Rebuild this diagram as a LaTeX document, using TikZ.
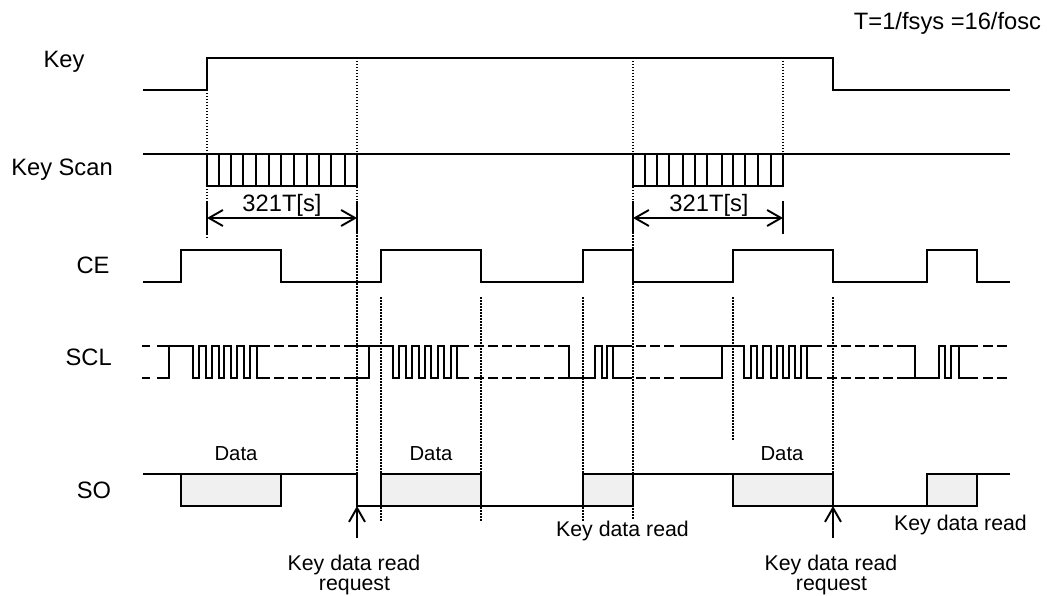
\documentclass[tikz,border=0pt]{standalone}
\usepackage{fontspec}
\setmainfont{Liberation Sans}
\usetikzlibrary{arrows.meta}
\tikzset{
  wave/.style={line width=1.9pt,line join=miter},
  dots/.style={line width=1.5pt,dash pattern=on 1.5pt off 1.5pt},
  thin wave/.style={line width=1.7pt},
  lab/.style={inner sep=0pt,anchor=base,font=\fontsize{23.7}{26}\selectfont},
  smalllab/.style={inner sep=0pt,anchor=base,font=\fontsize{21.3}{26}\selectfont},
  datalab/.style={inner sep=0pt,anchor=base,font=\fontsize{20.3}{26}\selectfont},
  boxg/.style={wave,fill=black!6},
  open/.style={-{Straight Barb[length=14pt,width=16pt]}},
  dim/.style={{Straight Barb[length=14pt,width=16pt]}-{Straight Barb[length=14pt,width=16pt]}},
}
\begin{document}
\begin{tikzpicture}[x=1pt,y=-1pt]
\useasboundingbox (0,0) rectangle (1047,596);
% dotted
\foreach \x/\a/\b in {207/90/154,207/186/238,357/58/474,633/58/520,783/58/154,381/297/521,481/297/521,583/297/521,733/297/440,833/297/474}
  \draw[dots] (\x,\a) -- (\x,\b);
% Key
\draw[wave] (143,90) -| (207,58) -| (833,90) -- (1010,90);
% Key scan
\draw[wave] (143,154) -- (1010,154);
\draw[wave] (207,154) rectangle (357,186);
\draw[wave] (633,154) rectangle (783,186);
\foreach \x in {219,231,243,256,269,281,294,307,319,331,345,645,657,669,683,695,707,722,733,745,758,771}
  \draw[thin wave] (\x,154) -- (\x,186);
% dimension
\coordinate (d1) at (207,218); \coordinate (d2) at (357,218);
\coordinate (d3) at (633,218); \coordinate (d4) at (783,218);
\draw[wave,dim] (d1) -- (d2);
\draw[wave,dim] (d3) -- (d4);
\foreach \x in {207,357,633,783} \draw[wave] (\x,201) -- (\x,234);
% CE
\draw[wave] (143,282) -- (181,282) -- (181,250) -- (281,250) -- (281,282) -- (381,282) -- (381,250) -- (481,250) -- (481,282) -- (583,282) -- (583,250) -- (633,250) -- (633,282) -- (733,282) -- (733,250) -- (833,250) -- (833,282) -- (927,282) -- (927,250) -- (977,250) -- (977,282) -- (1010,282);
% SCL
\def\hi{346}\def\lo{378}
% burst 1
\draw[wave] (157,\lo) -| (169,\hi) (157,\hi) -- (193,\hi) -- (193,\lo) -- (199,\lo) -- (199,\hi) -- (206,\hi) -- (206,\lo) -- (212,\lo) -- (212,\hi) -- (219,\hi) -- (219,\lo) -- (224,\lo) -- (224,\hi) -- (231,\hi) -- (231,\lo) -- (237,\lo) -- (237,\hi) -- (244,\hi) -- (244,\lo) -- (250,\lo) -- (250,\hi) -- (270,\hi);
\draw[wave] (257,\hi) -- (257,\lo) -- (270,\lo);
% burst 2
\draw[wave] (344,\lo) -| (369,\hi) (344,\hi) -- (393,\hi) -- (393,\lo) -- (399,\lo) -- (399,\hi) -- (406,\hi) -- (406,\lo) -- (412,\lo) -- (412,\hi) -- (419,\hi) -- (419,\lo) -- (425,\lo) -- (425,\hi) -- (431,\hi) -- (431,\lo) -- (438,\lo) -- (438,\hi) -- (444,\hi) -- (444,\lo) -- (451,\lo) -- (451,\hi) -- (469,\hi);
\draw[wave] (457,\hi) -- (457,\lo) -- (469,\lo);
% burst 3 short
\draw[wave] (558,\hi) -| (569,\lo) (558,\lo) -- (595,\lo) -- (595,\hi) -- (602,\hi) -- (602,\lo) -- (607,\lo) -- (607,\hi) -- (632,\hi);
\draw[wave] (613,\hi) -- (613,\lo) -- (632,\lo);
% burst 4
\draw[wave] (680,\lo) -| (722,\hi) (680,\hi) -- (744,\hi) -- (744,\lo) -- (751,\lo) -- (751,\hi) -- (757,\hi) -- (757,\lo) -- (763,\lo) -- (763,\hi) -- (771,\hi) -- (771,\lo) -- (777,\lo) -- (777,\hi) -- (783,\hi) -- (783,\lo) -- (789,\lo) -- (789,\hi) -- (795,\hi) -- (795,\lo) -- (801,\lo) -- (801,\hi) -- (822,\hi);
\draw[wave] (807,\hi) -- (807,\lo) -- (822,\lo);
% burst 5 short
\draw[wave] (897,\hi) -| (915,\lo) (897,\lo) -- (939,\lo) -- (939,\hi) -- (945,\hi) -- (945,\lo) -- (951,\lo) -- (951,\hi) -- (978,\hi);
\draw[wave] (959,\hi) -- (959,\lo) -- (978,\lo);
% dashes
\foreach \y in {\hi,\lo}{
  \foreach \a/\b in {142/150,274/284,288/298,302/312,316/326,330/340,474/484,488/498,502/512,516/526,530/540,544/554,636/646,650/660,664/674,827/837,841/851,855/865,869/879,883/893,983/993,997/1007}
    \draw[wave] (\a,\y) -- (\b,\y);
}
% SO
\draw[boxg] (181,474) rectangle (281,506);
\draw[boxg] (381,474) rectangle (481,506);
\draw[boxg] (583,474) rectangle (633,506);
\draw[boxg] (733,474) rectangle (833,506);
\draw[boxg] (927,474) rectangle (977,506);
\draw[wave] (143,474) -- (181,474) (281,474) -- (357,474) -- (357,506) -- (381,506) (481,506) -- (583,506) (633,474) -- (733,474) (833,506) -- (927,506) (977,474) -- (1010,474);
% arrows
\coordinate (a1) at (357,538); \coordinate (a1t) at (357,506);
\coordinate (a2) at (833,538); \coordinate (a2t) at (833,506);
\draw[wave,open] (a1) -- (a1t);
\draw[wave,open] (a2) -- (a2t);
% labels
\node[lab] (tk) at (64,68) {Key};
\node[lab] (tks) at (62,176) {Key Scan};
\node[lab] (tce) at (93,273.5) {CE};
\node[lab] (tscl) at (88.7,365.7) {SCL};
\node[lab] (tso) at (94,498.3) {SO};
\node[lab] (tt) at (947.5,30) {T=1/fsys =16/fosc};
\node[lab] (t1) at (282,212) {321T[s]};
\node[lab] (t2) at (709,212) {321T[s]};
\node[datalab] (d1l) at (236,460) {Data};
\node[datalab] (d2l) at (431,460) {Data};
\node[datalab] (d3l) at (782,460) {Data};
\node[smalllab] (k1) at (622.5,536) {Key data read};
\node[smalllab] (k2) at (960.5,530) {Key data read};
\node[smalllab] (r1) at (354,570) {Key data read};
\node[smalllab] (r1b) at (354.5,590.5) {request};
\node[smalllab] (r2) at (831,570) {Key data read};
\node[smalllab] (r2b) at (831.5,590.5) {request};
\end{tikzpicture}
\end{document}
